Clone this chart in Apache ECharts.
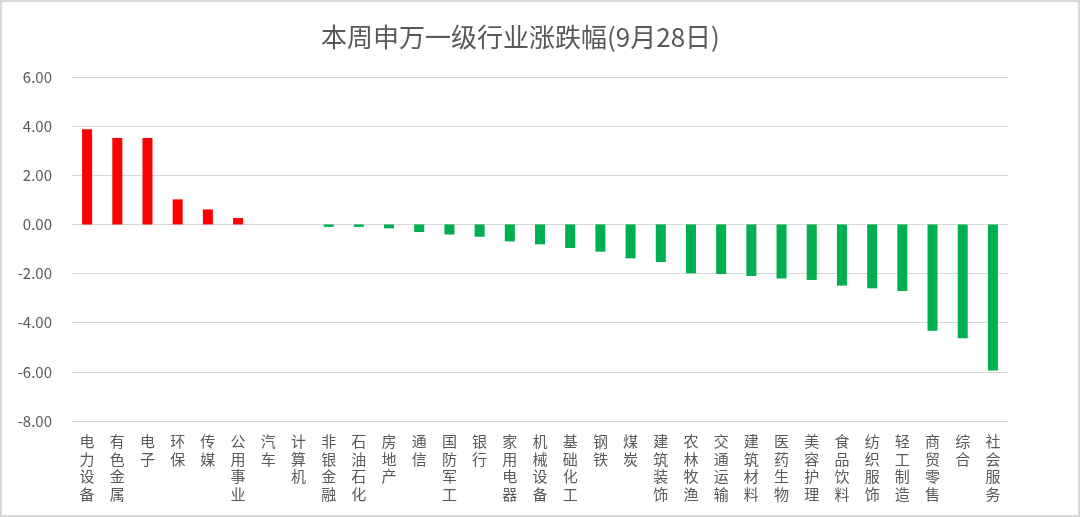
<!DOCTYPE html>
<html><head><meta charset="utf-8">
<script src="https://cdn.jsdelivr.net/npm/echarts@6/dist/echarts.min.js"></script>
<style>
html,body{margin:0;padding:0;background:#fff;}
#frame{position:absolute;left:0;top:0;width:1080px;height:517px;box-sizing:border-box;border:2px solid #d9d9d9;}
#c{position:absolute;left:0;top:0;width:1080px;height:517px;}
</style></head>
<body><div id="frame"></div><div id="c"></div>
<script>
const titleText = '本周申万一级行业涨跌幅(9月28日)';
const categories = ['电力设备','有色金属','电子','环保','传媒','公用事业','汽车','计算机','非银金融','石油石化','房地产','通信','国防军工','银行','家用电器','机械设备','基础化工','钢铁','煤炭','建筑装饰','农林牧渔','交通运输','建筑材料','医药生物','美容护理','食品饮料','纺织服饰','轻工制造','商贸零售','综合','社会服务'];
const values = [3.87,3.52,3.52,1.02,0.61,0.26,0,0,-0.1,-0.1,-0.16,-0.31,-0.41,-0.5,-0.69,-0.81,-0.96,-1.11,-1.38,-1.53,-1.99,-2.02,-2.1,-2.2,-2.26,-2.49,-2.6,-2.71,-4.33,-4.63,-5.94];
const yMin = -8, yMax = 6, yStep = 2;
const upColor = '#FF0000', downColor = '#00B050';
const font = '"Noto Sans CJK SC","Microsoft YaHei",sans-serif';
const chart = echarts.init(document.getElementById('c'), null, {renderer:'canvas'});
chart.setOption({
  animation:false,
  title:{text:titleText,left:316,top:19,textStyle:{fontFamily:font,fontSize:26,fontWeight:'normal',color:'#595959'}},
  grid:{left:72,right:72,top:77,bottom:96,containLabel:false},
  xAxis:{type:'category',data:categories,
    axisLine:{show:false},axisTick:{show:false},
    axisLabel:{interval:0,margin:12,color:'#595959',fontFamily:font,fontSize:15,lineHeight:17.5,verticalAlign:'top',
      formatter:v=>v.split('').join('\n')}},
  yAxis:{type:'value',min:yMin,max:yMax,interval:yStep,
    axisLine:{show:false},axisTick:{show:false},
    splitLine:{lineStyle:{color:'#d9d9d9',width:1}},
    axisLabel:{margin:20,color:'#595959',fontFamily:font,fontSize:15,formatter:v=>v.toFixed(2)}},
  series:[{type:'bar',barWidth:10,
    data:values.map(v=>({value:v,itemStyle:{color:v>=0?upColor:downColor}}))}]
});
</script></body></html>
